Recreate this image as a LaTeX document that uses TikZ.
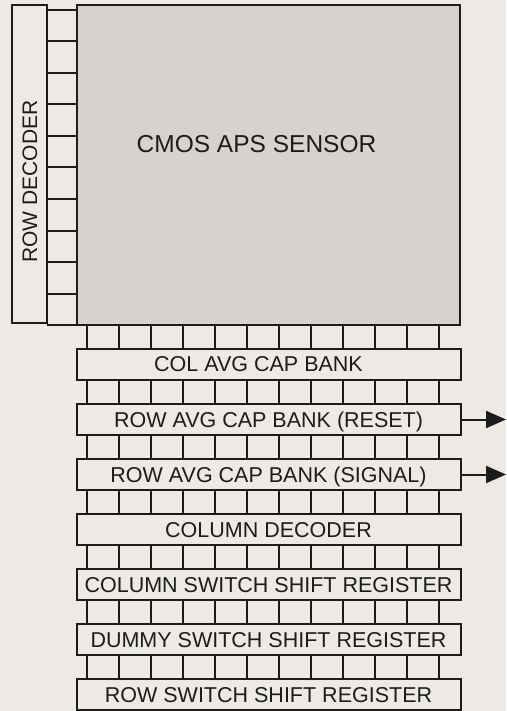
\documentclass[tikz,border=0pt]{standalone}
\usepackage{fontspec}
\setmainfont{Liberation Sans}
\usepackage{xcolor}
\definecolor{cInk}{HTML}{1C1C1C}
\definecolor{cPaper}{HTML}{EDEAE5}
\definecolor{cArray}{HTML}{D6D3CE}
\usepackage{tikz}
\usetikzlibrary{positioning,arrows.meta,calc}
\tikzset{
  node-block/.style={draw=cInk,line width=2pt,fill=cPaper,inner sep=0pt,
    outer sep=0pt,rectangle,text=cInk},
  node-array/.style={node-block,fill=cArray,minimum width=383pt,
    minimum height=320pt},
  node-decoder/.style={node-block,minimum width=35pt,minimum height=318pt},
  node-bank/.style={node-block,minimum width=384pt,minimum height=31pt,
    font=\fontsize{21.5}{24}\selectfont,text height=15.5pt,text depth=0pt},
  node-text/.style={inner sep=0pt,text=cInk},
  rung/.style={draw=cInk,line width=2pt},
  arrow-out/.style={-{Triangle[length=20pt,width=17pt]},line width=2pt,
    draw=cInk},
}
\begin{document}
\begin{tikzpicture}[x=1pt,y=-1pt,node distance=24pt]
  \fill[cPaper] (0,0) rectangle (506,711);
  \useasboundingbox (0,0) rectangle (506,711);

  % sensor array and row decoder
  \node[node-array] (sensor) at (268.5,165) {};
  \node[node-text,font=\fontsize{24.5}{28}\selectfont]
    (sensor-txt) at ($(sensor.center)+(-12,-21)$) {CMOS APS SENSOR};
  \node[node-decoder] (rowdec) at (29.5,164) {};
  \node[node-text,rotate=90,font=\fontsize{21}{24}\selectfont]
    (rowdec-txt) at ($(rowdec.center)+(0.5,17.5)$) {ROW DECODER};

  % readout banks
  \node[node-bank,below=of sensor] (colavg) {};
  \node[node-text,font=\fontsize{21.5}{24}\selectfont]
    (colavg-txt) at ($(colavg.center)+(-10,0)$) {COL AVG CAP BANK};
  \node[node-bank,below=of colavg] (reset) {ROW AVG CAP BANK (RESET)};
  \node[node-bank,below=of reset] (signal) {ROW AVG CAP BANK (SIGNAL)};
  \node[node-bank,below=of signal] (coldec) {COLUMN DECODER};
  \node[node-bank,below=of coldec] (colsw) {COLUMN SWITCH SHIFT REGISTER};
  \node[node-bank,below=of colsw] (dummy) {DUMMY SWITCH SHIFT REGISTER};
  \node[node-bank,below=of dummy] (rowsw) {ROW SWITCH SHIFT REGISTER};

  % row lines between decoder and array
  \foreach \k in {0,...,10} {
    \coordinate (row-\k) at (0,{10+31.5*\k});
    \draw[rung] (rowdec.east |- row-\k) -- (sensor.west |- row-\k);
  }

  % column lines between the stacked blocks
  \foreach \a/\b in {sensor/colavg,colavg/reset,reset/signal,signal/coldec,
      coldec/colsw,colsw/dummy,dummy/rowsw} {
    \foreach \k in {0,...,11} {
      \coordinate (col-\k) at ({87+32*\k},0);
      \draw[rung] (\a.south -| col-\k) -- (\b.north -| col-\k);
    }
  }

  % outputs
  \coordinate (edge) at (506,0);
  \draw[arrow-out] (reset.east) -- (reset.east -| edge);
  \draw[arrow-out] (signal.east) -- (signal.east -| edge);
\end{tikzpicture}
\end{document}
